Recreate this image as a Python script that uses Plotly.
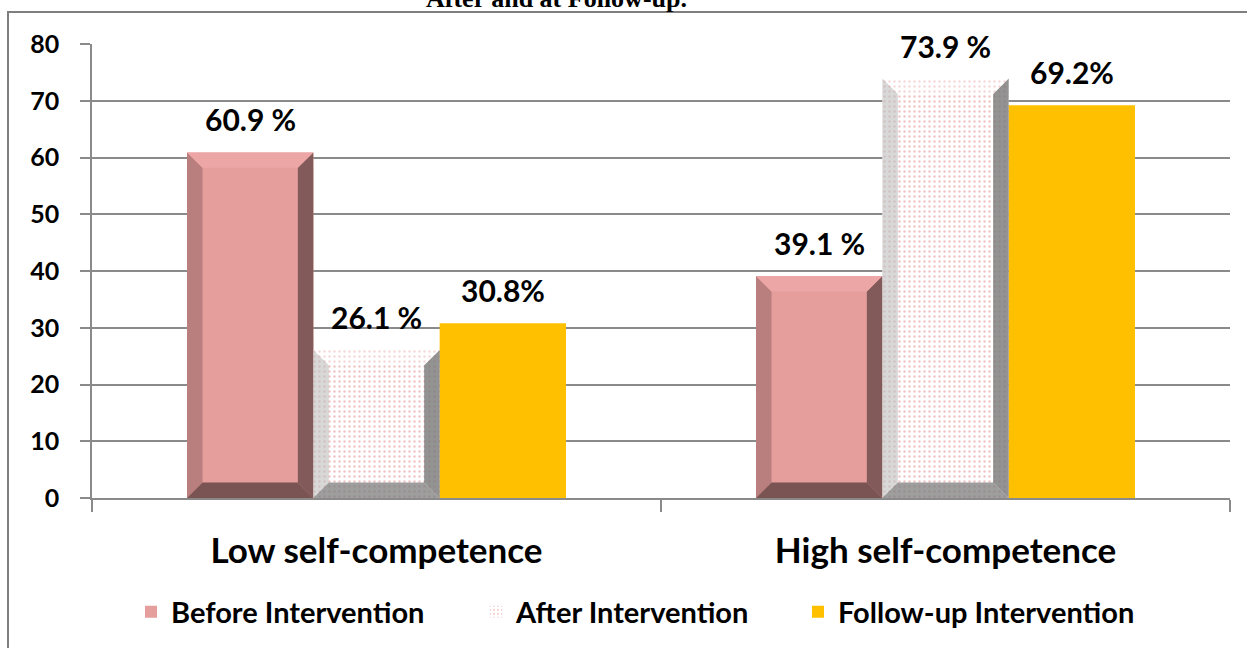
import plotly.graph_objects as go

# ---------------- data ----------------
categories = ["Low self-competence", "High self-competence"]
series_names = ["Before Intervention", "After Intervention", "Follow-up Intervention"]
before = [60.9, 39.1]
after = [26.1, 73.9]
follow_up = [30.8, 69.2]
before_labels = ["60.9 %", "39.1 %"]
after_labels = ["26.1 %", "73.9 %"]
follow_labels = ["30.8%", "69.2%"]
y_ticks = [0, 10, 20, 30, 40, 50, 60, 70, 80]
title_text = "After and at Follow-up."

# ---------------- layout geometry ----------------
W, H = 1247, 648
ML, MR, MT, MB = 92, 17, 44, 149
PW, PH = W - ML - MR, H - MT - MB
YMAX = 80
BARGAP = 0.334
NSER = 3
BW = (1 - BARGAP) / NSER
BEVEL_PX = 15.5
DX = BEVEL_PX / (PW / 2.0)
DY = BEVEL_PX / (PH / YMAX)

FONT = "Lato"
GRID = "#8a8a8a"

xs = list(range(len(categories)))
values = [before, after, follow_up]
labels = [before_labels, after_labels, follow_labels]

fig = go.Figure()
fig.add_trace(go.Bar(
    x=xs, y=before, name=series_names[0], width=BW,
    marker=dict(color="#e59e9c", line=dict(width=0)),
    legendwidth=300,
))
fig.add_trace(go.Bar(
    x=xs, y=after, name=series_names[1], width=BW,
    marker=dict(color="white", line=dict(width=0),
                pattern=dict(shape=".", fgcolor="#e08888", bgcolor="white",
                             size=5, solidity=0.18, fillmode="overlay")),
    legendwidth=277,
))
fig.add_trace(go.Bar(
    x=xs, y=follow_up, name=series_names[2], width=BW,
    marker=dict(color="#ffc000", line=dict(width=0)),
    legendwidth=310,
))

# bevel shapes computed from data
bevel_styles = [
    dict(top="#eca6a5", left="#b97f7e", right="#825a5a", bottom="#7a5353"),
    dict(top="rgba(255,255,255,0.35)", left="rgba(190,190,190,0.6)",
         right="rgba(120,120,120,0.8)", bottom="rgba(125,125,125,0.75)"),
    None,
]
shapes = []
for i, (vals, style) in enumerate(zip(values, bevel_styles)):
    if style is None:
        continue
    for j, v in zip(xs, vals):
        xc = j + (i - (NSER - 1) / 2) * BW
        L, R = xc - BW / 2, xc + BW / 2
        polys = {
            "left": [(L, 0), (L, v), (L + DX, v - DY), (L + DX, DY)],
            "right": [(R, 0), (R, v), (R - DX, v - DY), (R - DX, DY)],
            "top": [(L, v), (R, v), (R - DX, v - DY), (L + DX, v - DY)],
            "bottom": [(L, 0), (R, 0), (R - DX, DY), (L + DX, DY)],
        }
        for k, pts in polys.items():
            path = "M" + " L".join(f"{px},{py}" for px, py in pts) + " Z"
            shapes.append(dict(type="path", xref="x", yref="y", path=path,
                               fillcolor=style[k], line=dict(width=0), layer="above"))

# outer frame
shapes.append(dict(type="rect", xref="paper", yref="paper",
                   x0=(8 - ML) / PW, x1=1.2, y0=-0.6, y1=(H - MB - 12) / PH,
                   line=dict(color="#7f7f7f", width=2), fillcolor="rgba(0,0,0,0)",
                   layer="below"))

annotations = []
for i, (vals, labs) in enumerate(zip(values, labels)):
    for j, v, t in zip(xs, vals, labs):
        xc = j + (i - (NSER - 1) / 2) * BW
        annotations.append(dict(x=xc, y=v, xref="x", yref="y", text=t,
                                showarrow=False, yanchor="bottom", yshift=13,
                                font=dict(family=FONT, size=30, color="black", weight="bold")))

annotations.append(dict(x=(556 - ML) / PW, y=(H - MB - 15) / PH, xref="paper", yref="paper",
                        text=title_text, showarrow=False, yanchor="bottom", xanchor="center",
                        font=dict(family="Liberation Serif", size=26, color="black", weight="bold")))

fig.update_layout(
    width=W, height=H,
    margin=dict(l=ML, r=MR, t=MT, b=MB, pad=0),
    paper_bgcolor="white", plot_bgcolor="white",
    barmode="group", bargap=BARGAP, bargroupgap=0,
    shapes=shapes, annotations=annotations,
    showlegend=True,
    legend=dict(orientation="h", x=(131 - ML) / PW, xanchor="left",
                y=(H - MB - 612) / PH, yanchor="middle",
                font=dict(family=FONT, size=29, color="black", weight="bold"),
                bgcolor="rgba(0,0,0,0)", traceorder="normal"),
    xaxis=dict(range=[-0.5, 1.5], tickmode="array", tickvals=xs, ticktext=categories,
               ticks="", showgrid=False, zeroline=False,
               showline=True, linecolor=GRID, linewidth=1.5,
               tickfont=dict(family=FONT, size=35, color="black", weight="bold"),
               ticklabelstandoff=21,
               minor=dict(tickmode="array", tickvals=[-0.5, 0.5, 1.5], ticks="outside",
                          ticklen=12, tickwidth=1.5, tickcolor=GRID, showgrid=False)),
    yaxis=dict(range=[0, YMAX], tickmode="array", tickvals=y_ticks,
               ticks="outside", ticklen=10, tickwidth=1.5, tickcolor=GRID,
               showgrid=True, gridcolor=GRID, gridwidth=1.5, zeroline=False,
               showline=True, linecolor=GRID, linewidth=1.5,
               tickfont=dict(family=FONT, size=25, color="black", weight="bold"),
               ticklabelstandoff=16),
)

fig.write_html("out.html")
